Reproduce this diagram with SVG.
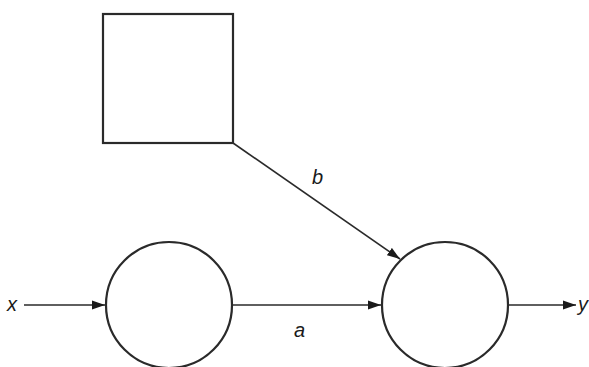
<svg xmlns="http://www.w3.org/2000/svg" width="589" height="367" viewBox="0 0 589 367">
<style>
.n{fill:none;stroke:#2a2a2a;stroke-width:2.2}
.c{fill:none;stroke:#2a2a2a;stroke-width:1.6}
.t{font-family:"Liberation Sans",Arial,sans-serif;font-style:italic;font-size:20px;fill:#1a1a1a}
</style>
<defs>
<marker id="ah" markerWidth="14" markerHeight="10" refX="13" refY="5" orient="auto" markerUnits="userSpaceOnUse">
<path d="M0,0.5 L13,5 L0,9.5 Z" fill="#1a1a1a"/>
</marker>
</defs>
<g id="square"><rect class="n" x="103" y="14" width="130" height="129"/></g>
<g id="circle1"><circle class="n" cx="169" cy="305" r="63"/></g>
<g id="circle2"><circle class="n" cx="445" cy="305" r="63"/></g>
<g id="connectors">
<line class="c" x1="24" y1="305" x2="105" y2="305" marker-end="url(#ah)"/>
<line class="c" x1="232" y1="305" x2="381" y2="305" marker-end="url(#ah)"/>
<line class="c" x1="233" y1="143" x2="400" y2="259" marker-end="url(#ah)"/>
<line class="c" x1="508" y1="305" x2="576" y2="305" marker-end="url(#ah)"/>
</g>
<g id="labels">
<text class="t" x="7" y="311">x</text>
<text class="t" x="578" y="311">y</text>
<text class="t" x="294" y="337">a</text>
<text class="t" x="312" y="184">b</text>
</g>
</svg>
